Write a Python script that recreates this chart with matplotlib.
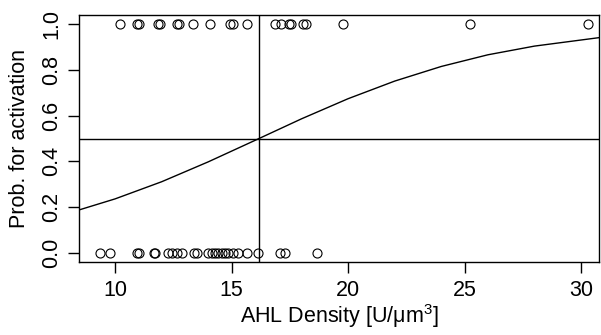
import numpy as np
import matplotlib
matplotlib.use("Agg")
import matplotlib.pyplot as plt

plt.rcParams['font.family'] = ['Liberation Sans', 'DejaVu Sans']
plt.rcParams['mathtext.fontset'] = 'custom'
plt.rcParams['mathtext.rm'] = 'Liberation Sans'
plt.rcParams['mathtext.it'] = 'Liberation Sans:italic'

# observed AHL densities of activated cells (prob = 1)
active_x = [10.21, 10.93, 11.03, 11.86, 11.93, 12.67, 12.76, 13.36, 14.08,
            14.91, 15.05, 15.65, 16.85, 17.10, 17.45, 17.55, 18.05, 18.20,
            19.77, 25.24, 30.31]
# observed AHL densities of non-activated cells (prob = 0)
inactive_x = [9.36, 9.79, 10.93, 11.04, 11.65, 11.72, 12.29, 12.43, 12.65,
              12.86, 13.39, 13.50, 14.00, 14.15, 14.29, 14.43, 14.58, 14.72,
              14.86, 15.08, 15.29, 15.65, 16.15, 17.08, 17.30, 18.65]

# fitted probability curve
curve_x = [8.4, 10, 12, 14, 16.18, 18, 20, 22, 24, 26, 28, 31]
curve_p = [0.186, 0.236, 0.311, 0.398, 0.5, 0.586, 0.674, 0.751, 0.815, 0.866, 0.904, 0.944]

# 50% activation threshold
threshold_x = 16.18
threshold_p = 0.5

xticks = [10, 15, 20, 25, 30]
yticks = [0.0, 0.2, 0.4, 0.6, 0.8, 1.0]

fig = plt.figure(figsize=(6.01, 3.35), dpi=100)
ax = fig.add_axes([79 / 601, 73 / 335, 520 / 601, 247 / 335])

ax.plot(curve_x, curve_p, color='black', lw=1.0)
ax.axvline(threshold_x, color='black', lw=1.0)
ax.axhline(threshold_p, color='black', lw=1.0)
ax.plot(active_x, np.ones(len(active_x)), 'o', mfc='none', mec='black', ms=6.5, mew=0.8)
ax.plot(inactive_x, np.zeros(len(inactive_x)), 'o', mfc='none', mec='black', ms=6.5, mew=0.8)

ax.set_xlim(8.45, 30.77)
ax.set_ylim(-0.04, 1.04)
ax.set_xticks(xticks)
ax.set_xticklabels([str(t) for t in xticks])
ax.set_yticks(yticks)
ax.set_yticklabels(['%.1f' % t for t in yticks], rotation=90, va='center')
ax.tick_params(direction='out', length=8, width=1, labelsize=15.5, colors='black')
ax.tick_params(axis='x', pad=5)
ax.tick_params(axis='y', pad=4)
for s in ax.spines.values():
    s.set_linewidth(1)

ax.set_xlabel('AHL Density [U/μm$^3$]', fontsize=15.5, labelpad=1)
ax.set_ylabel('Prob. for activation', fontsize=15.5, labelpad=8)

fig.savefig('out.png', dpi=100)
